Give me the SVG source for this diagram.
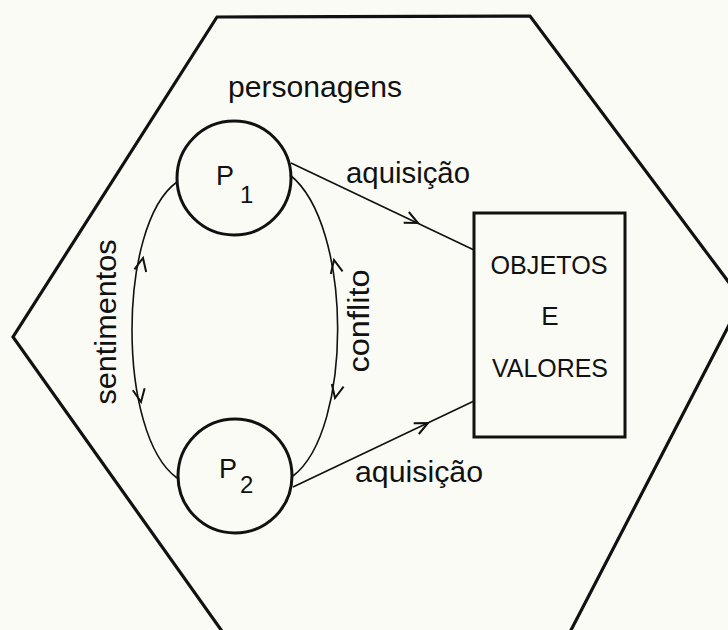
<svg xmlns="http://www.w3.org/2000/svg" width="728" height="630" viewBox="0 0 728 630">
  <style>
    .frame { fill: none; stroke: #111; stroke-width: 3.2; stroke-linejoin: miter; }
    .node { fill: none; stroke: #111; stroke-width: 3; }
    .conn { fill: none; stroke: #111; stroke-width: 1.6; }
    .chev { fill: none; stroke: #111; stroke-width: 2; stroke-linejoin: miter; }
    .lbl { font-family: "Liberation Sans", Arial, sans-serif; fill: #111; font-size: 29px; }
    .cap { font-family: "Liberation Sans", Arial, sans-serif; fill: #111; font-size: 26px; text-anchor: middle; }
    .pl { font-family: "Liberation Sans", Arial, sans-serif; fill: #111; }
  </style>
  <defs>
    <path id="chev" d="M-6,13 L0,0 L6,13"/>
  </defs>
  <rect x="0" y="0" width="728" height="630" fill="#fbfbf5"/>

  <g id="frame">
    <polygon class="frame" points="217,17 530,16 742,300 569,634 224,634 13,337"/>
  </g>

  <g id="connectors">
    <!-- sentimentos curve (left) -->
    <path class="conn" d="M177,182 C117,225 117,435 177,478"/>
    <!-- conflito curve (right) -->
    <path class="conn" d="M290,175 C353,225 353,430 293,476"/>
    <!-- aquisição upper -->
    <path class="conn" d="M291,163 L474,250"/>
    <!-- aquisição lower -->
    <path class="conn" d="M293,487 L474,401"/>
    <g class="chev">
      <use href="#chev" transform="translate(143,258) rotate(12)"/>
      <use href="#chev" transform="translate(141,402) rotate(170)"/>
      <use href="#chev" transform="translate(334,260) rotate(-12)"/>
      <use href="#chev" transform="translate(335,398) rotate(192)"/>
      <use href="#chev" transform="translate(418,223) rotate(115.4)"/>
      <use href="#chev" transform="translate(428,423) rotate(64.6)"/>
    </g>
  </g>

  <g id="node-p1">
    <circle class="node" cx="234" cy="178" r="57"/>
    <text class="pl" x="216" y="185" font-size="27">P</text>
    <text class="pl" x="240" y="203" font-size="24">1</text>
  </g>

  <g id="node-p2">
    <circle class="node" cx="235" cy="476" r="57"/>
    <text class="pl" x="219" y="478" font-size="27">P</text>
    <text class="pl" x="240" y="493" font-size="24">2</text>
  </g>

  <g id="node-objetos">
    <rect class="node" x="474" y="213" width="151" height="224" stroke-width="3.5"/>
    <text class="cap" x="549" y="274" textLength="117" lengthAdjust="spacingAndGlyphs">OBJETOS</text>
    <text class="cap" x="550" y="325">E</text>
    <text class="cap" x="550" y="377" textLength="116" lengthAdjust="spacingAndGlyphs">VALORES</text>
  </g>

  <g id="labels">
    <text class="lbl" x="228" y="97" textLength="174" lengthAdjust="spacingAndGlyphs">personagens</text>
    <text class="lbl" x="346" y="183" textLength="124" lengthAdjust="spacingAndGlyphs">aquisição</text>
    <text class="lbl" x="355" y="482" textLength="128" lengthAdjust="spacingAndGlyphs">aquisição</text>
    <text class="lbl" transform="translate(116,322) rotate(-90)" x="0" y="0" text-anchor="middle" textLength="165" lengthAdjust="spacingAndGlyphs">sentimentos</text>
    <text class="lbl" transform="translate(369,321) rotate(-90)" x="0" y="0" text-anchor="middle" textLength="103" lengthAdjust="spacingAndGlyphs">conflito</text>
  </g>
</svg>
